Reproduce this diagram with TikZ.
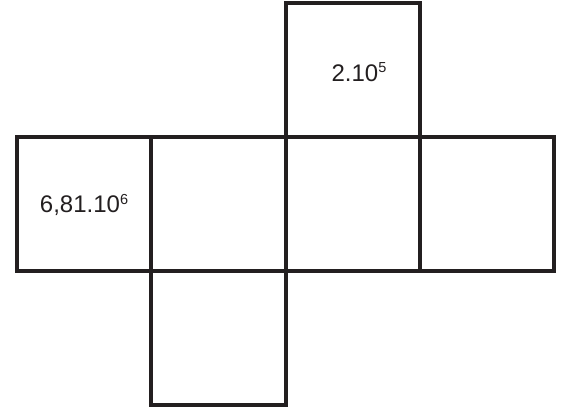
\documentclass[tikz,border=0pt]{standalone}
\usepackage{fontspec}
\setmainfont{Liberation Sans}
\definecolor{ink}{HTML}{231F20}
\newcommand{\sups}[1]{\raisebox{8.5pt}{\fontsize{14.5}{15}\selectfont #1}}
\begin{document}
\begin{tikzpicture}[x=1pt,y=-1pt,
  face/.style={draw=ink,line width=4.2pt,minimum width=134.3pt,minimum height=134pt,inner sep=0pt,anchor=center},
  lbl/.style={text=ink,font=\fontsize{24}{26}\selectfont,inner sep=0pt}]
\useasboundingbox (0,0) rectangle (569,412);
\node[face] (top) at (353,70) {};
\node[face] (f1) at (84,204) {};
\node[face] (f2) at (218.5,204) {};
\node[face] (f3) at (353,204) {};
\node[face] (f4) at (487,204) {};
\node[face] (bot) at (218.5,338) {};
\node[lbl] (t1) at ([xshift=6pt,yshift=-2pt]top.center) {2.10\sups{5}};
\node[lbl] (t2) at ([yshift=-1pt]f1.center) {6,81.10\sups{6}};
\end{tikzpicture}
\end{document}
